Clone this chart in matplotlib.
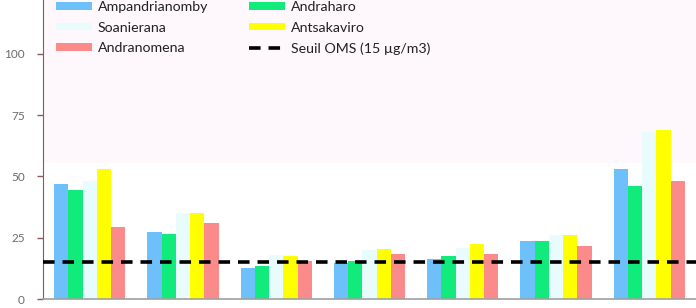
import matplotlib
matplotlib.use("Agg")
import matplotlib.pyplot as plt
import numpy as np

# ── Data (PM2.5, µg/m3) ───────────────────────────────────────────────────────
sites = ["Ampandrianomby", "Andraharo", "Soanierana", "Antsakaviro", "Andranomena"]
ampandrianomby = [47, 27.5, 12.5, 14.5, 16.5, 23.5, 53]
andraharo = [44.5, 26.5, 13.5, 15.5, 17.5, 23.5, 46]
soanierana = [48, 35, 18, 20, 21, 26, 68]
antsakaviro = [53, 35, 17.5, 20.5, 22.5, 26, 69]
andranomena = [29.5, 31, 15.5, 18.5, 18.5, 21.5, 48]
seuil_oms = 15
yticks = [0, 25, 50, 75, 100]

series = [ampandrianomby, andraharo, soanierana, antsakaviro, andranomena]
colors = ["#6ec0fa", "#10eb7c", "#e8fbfd", "#ffff00", "#fb8b8b"]

plt.rcParams["font.family"] = ["Lato", "DejaVu Sans"]

fig = plt.figure(figsize=(6.96, 3.08), dpi=100)
ax = fig.add_axes([43 / 696, 9 / 308, 653 / 696, 299 / 308])

# faint pink band over the upper part of the plot area
ax.axhspan(55.5, 130, color="#fef7fb", zorder=0, lw=0)

x = np.arange(len(ampandrianomby))
width = 0.153
bars = []
for i, (vals, col, name) in enumerate(zip(series, colors, sites)):
    b = ax.bar(x + (i - 2) * width, vals, width, color=col, label=name, zorder=2)
    bars.append(b)

line = ax.axhline(seuil_oms, color="black", ls=(0, (3.2, 2.2)), lw=2.6, zorder=3,
                  label="Seuil OMS (15 µg/m3)")

ax.set_xlim(-0.5, 6.5)
ax.set_ylim(0, 122)
ax.set_yticks(yticks)
ax.set_xticks([])
ax.tick_params(axis="y", colors="#8a5a5a", labelcolor="#6b6b6b", labelsize=8.5,
               length=4, width=1, direction="out", pad=9)
for s in ("top", "right"):
    ax.spines[s].set_visible(False)
ax.spines["left"].set_color("#8a5a5a")
ax.spines["bottom"].set_color("#a0a0a0")
ax.spines["bottom"].set_linewidth(1.2)

# legend: column 1 = first three, column 2 = rest
handles = [bars[0], bars[2], bars[4], bars[1], bars[3], line]
labels = [sites[0], sites[2], sites[4], sites[1], sites[3], line.get_label()]
ax.legend(handles, labels, ncol=2, loc="center left", frameon=False,
          bbox_to_anchor=(56 / 696, 1 - 28 / 308), bbox_transform=fig.transFigure,
          fontsize=10.2, borderpad=0, borderaxespad=0, handlelength=2.55,
          handleheight=0.42, handletextpad=0.4, columnspacing=2.9,
          labelspacing=0.6, labelcolor="#222222")

fig.savefig("out.png", dpi=100)
